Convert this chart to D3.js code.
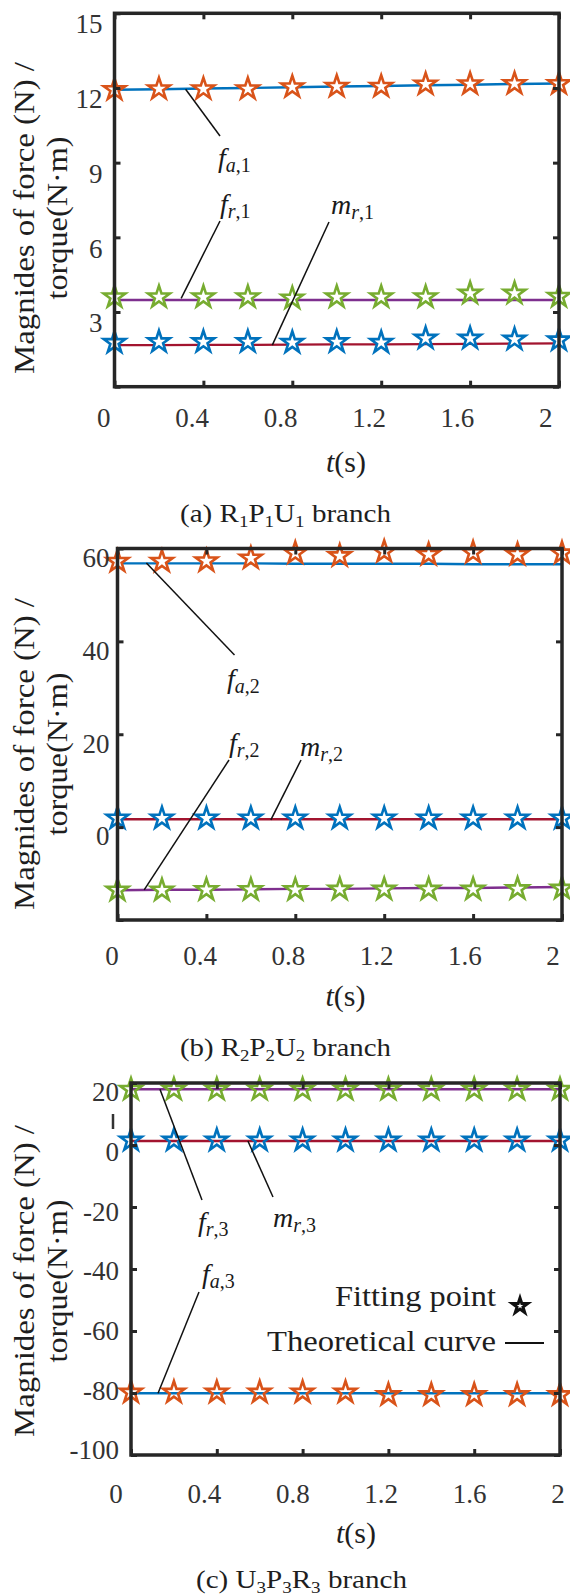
<!DOCTYPE html>
<html>
<head>
<meta charset="utf-8">
<script src="https://cdn.jsdelivr.net/npm/d3@7"></script>
<style>
  html, body { margin: 0; padding: 0; background: #fff; }
  svg { display: block; }
</style>
</head>
<body>
<svg id="fig" width="570" height="1596"></svg>
<script>
// Sample times of the fitting points (s)
const times = [0, 0.2, 0.4, 0.6, 0.8, 1.0, 1.2, 1.4, 1.6, 1.8, 2.0];
const timeTicks = [0, 0.4, 0.8, 1.2, 1.6, 2];

// (a) R1P1U1 branch
const faFitA   = [11.93, 11.96, 11.96, 11.96, 12.04, 12.06, 12.06, 12.15, 12.16, 12.17, 12.17];
const faCurveA = [11.93, 11.95, 11.98, 12.00, 12.03, 12.06, 12.08, 12.11, 12.13, 12.16, 12.18];
const frFitA   = [3.60, 3.60, 3.60, 3.60, 3.55, 3.60, 3.60, 3.60, 3.75, 3.75, 3.62];
const frCurveA = [3.48, 3.48, 3.48, 3.48, 3.48, 3.48, 3.48, 3.48, 3.48, 3.48, 3.48];
const mrFitA   = [1.77, 1.80, 1.80, 1.80, 1.77, 1.80, 1.77, 1.94, 1.94, 1.90, 1.87];
const mrCurveA = [1.67, 1.67, 1.68, 1.68, 1.69, 1.70, 1.70, 1.71, 1.72, 1.73, 1.74];
const yTicksA  = [0, 3, 6, 9, 12, 15];
const yLabelsA = [3, 6, 9, 12, 15];

// (b) R2P2U2 branch
const faFitB   = [57.2, 57.2, 57.3, 57.9, 59.0, 58.4, 59.3, 58.7, 59.1, 58.7, 59.0];
const faCurveB = [56.8, 56.8, 56.8, 56.8, 56.7, 56.7, 56.7, 56.7, 56.6, 56.6, 56.6];
const mrFitB   = [1.9, 1.9, 1.9, 1.9, 1.9, 1.9, 1.9, 1.9, 1.9, 1.9, 1.9];
const mrCurveB = [1.7, 1.7, 1.7, 1.7, 1.7, 1.7, 1.7, 1.7, 1.7, 1.7, 1.7];
const frFitB   = [-13.6, -13.6, -13.5, -13.5, -13.5, -13.4, -13.4, -13.4, -13.4, -13.3, -13.2];
const frCurveB = [-13.6, -13.5, -13.5, -13.4, -13.3, -13.3, -13.2, -13.1, -13.1, -13.0, -12.9];
const yTicksB  = [-20, 0, 20, 40, 60];
const yLabelsB = [0, 20, 40, 60];

// (c) U3P3R3 branch
const frFitC   = [17.9, 17.9, 17.9, 17.9, 17.9, 17.9, 17.9, 17.9, 17.9, 17.9, 17.9];
const frCurveC = [18.0, 18.0, 18.0, 18.0, 18.0, 18.0, 18.0, 18.0, 18.0, 18.0, 18.0];
const mrFitC   = [1.5, 1.5, 1.5, 1.5, 1.5, 1.5, 1.5, 1.5, 1.5, 1.5, 1.5];
const mrCurveC = [1.3, 1.3, 1.3, 1.3, 1.3, 1.3, 1.3, 1.3, 1.3, 1.3, 1.3];
const faFitC   = [-79.8, -79.8, -79.8, -79.8, -79.8, -79.8, -80.6, -80.6, -80.6, -80.6, -80.6];
const faCurveC = [-80.1, -80.1, -80.1, -80.1, -80.1, -80.1, -80.1, -80.1, -80.1, -80.1, -80.1];
const yTicksC  = [-100, -80, -60, -40, -20, 0, 20];
const yLabelsC = [-100, -80, -60, -40, -20, 0, 20];

// Marker / line colours per quantity
const COLORS = {
  fa: { pt: "#D95319", line: "#0072BD" },
  fr: { pt: "#77AC30", line: "#7E2F8E" },
  mr: { pt: "#0072BD", line: "#A2142F" }
};
const SERIF = '"Liberation Serif","Times New Roman",Times,serif';
const AXIS_COLOR = "#262626";
const LABEL_COLOR = "#333";

const panels = [
  {
    box: { l: 114.5, r: 559, t: 13.3, b: 386.7 },
    yDomain: [0, 15], yTicks: yTicksA, yLabels: yLabelsA,
    yLabelRange: [397.8, 24], yLabelX: 102.5,
    xLabelRange: [103.3, 545.3], xLabelY: 427,
    tLabel: [346, 472], titleY: 218,
    caption: { x: 285.5, y: 522, parts: [["(a) R", 0], ["1", 1], ["P", 0], ["1", 1], ["U", 0], ["1", 1], [" branch", 0]] },
    starFill: "#fff",
    series: [
      { key: "fa", fit: faFitA, curve: faCurveA },
      { key: "fr", fit: frFitA, curve: frCurveA },
      { key: "mr", fit: mrFitA, curve: mrCurveA }
    ],
    notes: [
      { main: "f", sub: "a", idx: "1", tx: 218, ty: 167, from: [220, 136], at: [0.32, 11.95] },
      { main: "f", sub: "r", idx: "1", tx: 220, ty: 213, from: [220, 221], at: [0.30, 3.55] },
      { main: "m", sub: "r", idx: "1", tx: 331, ty: 214, from: [329, 222], at: [0.71, 1.67] }
    ]
  },
  {
    box: { l: 117.5, r: 562, t: 548.5, b: 920 },
    yDomain: [-20, 60], yTicks: yTicksB, yLabels: yLabelsB,
    yLabelRange: [928.8, 557.5], yLabelX: 109.5,
    xLabelRange: [111.5, 552.5], xLabelY: 965,
    tLabel: [345.5, 1006], titleY: 754,
    caption: { x: 285.5, y: 1056, parts: [["(b) R", 0], ["2", 1], ["P", 0], ["2", 1], ["U", 0], ["2", 1], [" branch", 0]] },
    starFill: "#fff",
    series: [
      { key: "fa", fit: faFitB, curve: faCurveB },
      { key: "mr", fit: mrFitB, curve: mrCurveB },
      { key: "fr", fit: frFitB, curve: frCurveB }
    ],
    notes: [
      { main: "f", sub: "a", idx: "2", tx: 227, ty: 688, from: [234.5, 655], at: [0.13, 56.9] },
      { main: "f", sub: "r", idx: "2", tx: 229, ty: 752, from: [229, 760], at: [0.12, -13.5] },
      { main: "m", sub: "r", idx: "2", tx: 300, ty: 756, from: [301, 760], at: [0.69, 1.55] }
    ]
  },
  {
    box: { l: 131, r: 560, t: 1083, b: 1455 },
    yDomain: [-100, 20], yTicks: yTicksC, yLabels: yLabelsC,
    yLabelRange: [1450, 1092], yLabelX: 119,
    xLabelRange: [115.5, 557.5], xLabelY: 1503,
    tLabel: [356, 1543], titleY: 1281,
    caption: { x: 301.5, y: 1588, parts: [["(c) U", 0], ["3", 1], ["P", 0], ["3", 1], ["R", 0], ["3", 1], [" branch", 0]] },
    starFill: "none",
    series: [
      { key: "fr", fit: frFitC, curve: frCurveC },
      { key: "mr", fit: mrFitC, curve: mrCurveC },
      { key: "fa", fit: faFitC, curve: faCurveC }
    ],
    notes: [
      { main: "f", sub: "r", idx: "3", tx: 198, ty: 1231, from: [202, 1200], at: [0.135, 18.0] },
      { main: "m", sub: "r", idx: "3", tx: 273, ty: 1227, from: [273, 1197], at: [0.545, 1.3] },
      { main: "f", sub: "a", idx: "3", tx: 202, ty: 1283, from: [199, 1292], at: [0.126, -80.1] }
    ],
    legend: true
  }
];

const svg = d3.select("#fig");

function styleTicks(sel) {
  sel.select(".domain").remove();
  sel.selectAll(".tick line").attr("stroke", AXIS_COLOR).attr("stroke-width", 3);
}

function drawPanel(p) {
  const g = svg.append("g");
  const x = d3.scaleLinear().domain([0, 2]).range([p.box.l, p.box.r]);
  const y = d3.scaleLinear().domain(p.yDomain).range([p.box.b, p.box.t]);
  const xl = d3.scaleLinear().domain([0, 2]).range(p.xLabelRange);
  const yl = d3.scaleLinear().domain(p.yDomain).range(p.yLabelRange);

  // theoretical curves
  const line = d3.line().x((d, i) => x(times[i])).y(d => y(d));
  p.series.forEach(s => {
    g.append("path")
      .attr("d", line(s.curve))
      .attr("fill", "none")
      .attr("stroke", COLORS[s.key].line)
      .attr("stroke-width", 2.4);
  });

  // fitting points
  const star = d3.symbol(d3.symbolStar, 145);
  p.series.forEach(s => {
    g.append("g").selectAll("path")
      .data(s.fit)
      .join("path")
      .attr("transform", (d, i) => `translate(${x(times[i])},${y(d)})`)
      .attr("d", star)
      .attr("fill", p.starFill)
      .attr("stroke", COLORS[s.key].pt)
      .attr("stroke-width", 2.6)
      .attr("stroke-linejoin", "miter");
  });

  // labels with leader lines
  p.notes.forEach(n => {
    g.append("line")
      .attr("x1", n.from[0]).attr("y1", n.from[1])
      .attr("x2", x(n.at[0])).attr("y2", y(n.at[1]))
      .attr("stroke", "#111").attr("stroke-width", 1.5);
    const t = g.append("text")
      .attr("x", n.tx).attr("y", n.ty)
      .attr("font-family", SERIF).attr("font-size", 28).attr("fill", "#1a1a1a");
    t.append("tspan").attr("font-style", "italic").text(n.main);
    t.append("tspan").attr("font-style", "italic").attr("font-size", 20).attr("dy", 5).text(n.sub);
    t.append("tspan").attr("font-size", 20).text("," + n.idx);
  });

  // tick marks, pointing inward on all four sides
  g.append("g").attr("transform", `translate(0,${p.box.b})`)
    .call(d3.axisBottom(x).tickValues(timeTicks).tickSize(-6).tickFormat(""))
    .call(styleTicks);
  g.append("g").attr("transform", `translate(0,${p.box.t})`)
    .call(d3.axisTop(x).tickValues(timeTicks).tickSize(-6).tickFormat(""))
    .call(styleTicks);
  g.append("g").attr("transform", `translate(${p.box.l},0)`)
    .call(d3.axisLeft(y).tickValues(p.yTicks).tickSize(-6).tickFormat(""))
    .call(styleTicks);
  g.append("g").attr("transform", `translate(${p.box.r},0)`)
    .call(d3.axisRight(y).tickValues(p.yTicks).tickSize(-6).tickFormat(""))
    .call(styleTicks);

  // axes box
  g.append("rect")
    .attr("x", p.box.l).attr("y", p.box.t)
    .attr("width", p.box.r - p.box.l).attr("height", p.box.b - p.box.t)
    .attr("fill", "none").attr("stroke", AXIS_COLOR).attr("stroke-width", 3.5);

  // tick labels
  const xLab = g.append("g").attr("transform", `translate(0,${p.xLabelY})`)
    .call(d3.axisBottom(xl).tickValues(timeTicks).tickSize(0).tickPadding(0).tickFormat(d => String(d)));
  xLab.select(".domain").remove();
  xLab.selectAll("text").attr("y", 0).attr("dy", 0)
    .attr("font-family", SERIF).attr("font-size", 27).attr("fill", LABEL_COLOR);

  const yLab = g.append("g").attr("transform", `translate(${p.yLabelX},0)`)
    .call(d3.axisLeft(yl).tickValues(p.yLabels).tickSize(0).tickPadding(0).tickFormat(d => String(d)));
  yLab.select(".domain").remove();
  yLab.selectAll("text").attr("x", 0).attr("dy", "0.33em")
    .attr("font-family", SERIF).attr("font-size", 27).attr("fill", LABEL_COLOR);

  // axis titles
  g.append("text")
    .attr("transform", `translate(34,${p.titleY}) rotate(-90)`)
    .attr("text-anchor", "middle")
    .attr("textLength", 312).attr("lengthAdjust", "spacingAndGlyphs")
    .attr("font-family", SERIF).attr("font-size", 29).attr("fill", "#1e1e1e")
    .text("Magnides of force (N) /");
  g.append("text")
    .attr("transform", `translate(67,${p.titleY}) rotate(-90)`)
    .attr("text-anchor", "middle")
    .attr("textLength", 163).attr("lengthAdjust", "spacingAndGlyphs")
    .attr("font-family", SERIF).attr("font-size", 29).attr("fill", "#1e1e1e")
    .text("torque(N\u00B7m)");

  const tl = g.append("text")
    .attr("x", p.tLabel[0]).attr("y", p.tLabel[1])
    .attr("text-anchor", "middle")
    .attr("font-family", SERIF).attr("font-size", 30).attr("fill", "#1e1e1e");
  tl.append("tspan").attr("font-style", "italic").text("t");
  tl.append("tspan").text("(s)");

  // caption
  const cap = g.append("text")
    .attr("x", p.caption.x).attr("y", p.caption.y)
    .attr("text-anchor", "middle")
    .attr("textLength", 211).attr("lengthAdjust", "spacingAndGlyphs")
    .attr("font-family", SERIF).attr("font-size", 26).attr("fill", "#1e1e1e");
  let shifted = false;
  p.caption.parts.forEach(([txt, sub]) => {
    const ts = cap.append("tspan").text(txt);
    if (sub) { ts.attr("font-size", 17).attr("dy", shifted ? 0 : 5); shifted = true; }
    else if (shifted) { ts.attr("dy", -5); shifted = false; }
  });

  if (p.legend) {
    // stray mark beside the axis
    g.append("line").attr("x1", 113).attr("x2", 113).attr("y1", 1114).attr("y2", 1129)
      .attr("stroke", "#333").attr("stroke-width", 2.5);

    g.append("text").attr("x", 496).attr("y", 1306).attr("text-anchor", "end")
      .attr("textLength", 161).attr("lengthAdjust", "spacingAndGlyphs")
      .attr("font-family", SERIF).attr("font-size", 30).attr("fill", "#1e1e1e")
      .text("Fitting point");
    g.append("path").attr("transform", "translate(520,1306)")
      .attr("d", d3.symbol(d3.symbolStar, 74)())
      .attr("fill", "#fff").attr("stroke", "#111").attr("stroke-width", 3);
    g.append("text").attr("x", 496).attr("y", 1351).attr("text-anchor", "end")
      .attr("textLength", 229).attr("lengthAdjust", "spacingAndGlyphs")
      .attr("font-family", SERIF).attr("font-size", 30).attr("fill", "#1e1e1e")
      .text("Theoretical curve");
    g.append("line").attr("x1", 505).attr("x2", 544).attr("y1", 1343).attr("y2", 1343)
      .attr("stroke", "#111").attr("stroke-width", 2.2);
  }
}

panels.forEach(drawPanel);
</script>
</body>
</html>
